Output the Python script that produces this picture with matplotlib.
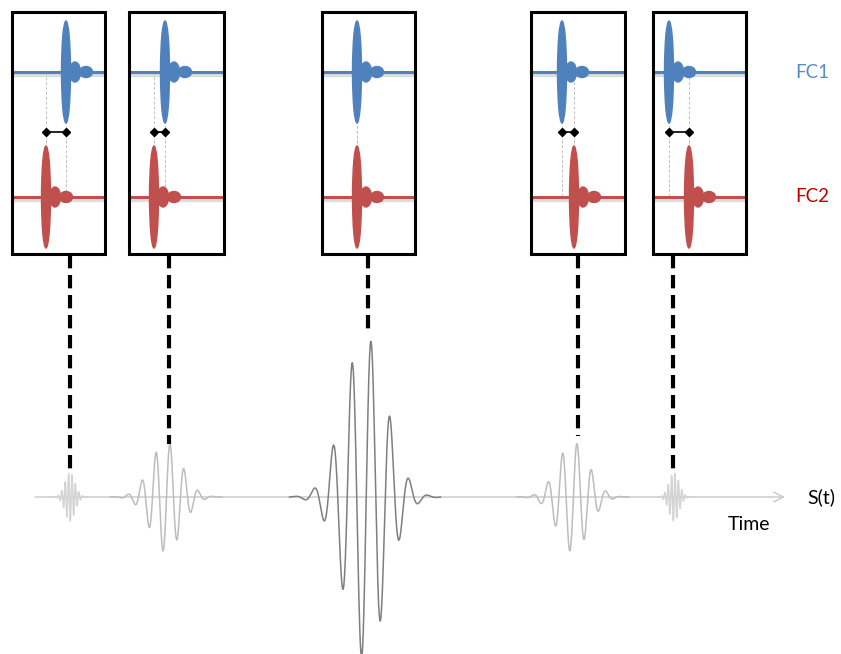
import numpy as np
import matplotlib.pyplot as plt
from matplotlib.patches import Rectangle, Ellipse

# five snapshots of the two frequency combs (pixel layout of the sketch)
box_left = [12, 129, 322, 531, 653]
box_right = [105, 224, 415, 625, 746]
fc1_x = [66, 165, 357, 562, 669]
fc2_x = [46, 154, 357, 574, 689]
link_x = [70, 169, 368, 578, 673]
link_end = [470, 444, 330, 436, 470]

# wave packets of the interferogram S(t)
packet_center = [70, 166, 365, 573, 674]
packet_peak_x = [72, 170, 371, 577, 675]
packet_period = [3.4, 14, 19, 14.5, 3.4]
packet_amp = [24, 55, 162, 55, 24]
packet_sigma = [5, 15.5, 21, 15.5, 5]
packet_color = ["#d4d4d4", "#bdbdbd", "#7f7f7f", "#bdbdbd", "#d4d4d4"]

BLUE = "#4f81bd"
RED = "#c0504d"
box_top, box_bottom = 12, 254
fc1_y, fc2_y, delay_y = 72, 197, 132
sig_y = 497


def draw_pulse(ax, x0, y0, color):
    ax.add_patch(Ellipse((x0 + 20, y0), 13, 11, color=color, zorder=4))
    ax.add_patch(Ellipse((x0 + 9, y0), 11, 20, color=color, zorder=4))
    ax.add_patch(Ellipse((x0, y0), 9, 102, color=color, zorder=4))


fig = plt.figure(figsize=(8.41, 6.54), dpi=100)
ax = fig.add_axes([0, 0, 1, 1])
ax.set_xlim(0, 841)
ax.set_ylim(654, 0)
ax.axis("off")

for i in range(5):
    l, r = box_left[i], box_right[i]
    # comb baselines with a soft shadow
    for y, c in [(fc1_y, BLUE), (fc2_y, RED)]:
        ax.plot([l, r], [y + 2.5, y + 2.5], color="#dcdcdc", lw=2.4, zorder=2,
                solid_capstyle="butt")
        ax.plot([l, r], [y, y], color=c, lw=2.2, zorder=3, solid_capstyle="butt")
    # guide lines
    for x in (fc1_x[i], fc2_x[i]):
        ax.plot([x, x], [fc1_y, fc2_y], color="#c0c0c0", lw=0.7, ls=(0, (3, 2)),
                zorder=2.5)
    draw_pulse(ax, fc1_x[i], fc1_y, BLUE)
    draw_pulse(ax, fc2_x[i], fc2_y, RED)
    if fc1_x[i] != fc2_x[i]:
        ax.plot([fc1_x[i], fc2_x[i]], [delay_y, delay_y], color="black", lw=1.2,
                marker="D", ms=4.5, zorder=5)
    ax.add_patch(Rectangle((l, box_top), r - l, box_bottom - box_top, fill=False,
                           ec="black", lw=2.2, zorder=6))
    # connector to the signal
    ax.plot([link_x[i], link_x[i]], [box_bottom + 1, link_end[i]], color="black",
            lw=3, ls=(0, (3.2, 1.6)), zorder=6)

# time axis
ax.annotate("", xy=(785, sig_y), xytext=(35, sig_y),
            arrowprops=dict(arrowstyle="->,head_length=0.7,head_width=0.35",
                            color="#c8c8c8", lw=1.0, shrinkA=0, shrinkB=0))

for c, px, per, a, s, col in zip(packet_center, packet_peak_x, packet_period,
                                  packet_amp, packet_sigma, packet_color):
    x = np.linspace(c - 3.6 * s, c + 3.6 * s, 800)
    y = sig_y - a * np.exp(-((x - c) ** 2) / (2 * s ** 2)) * np.cos(2 * np.pi * (x - px) / per)
    ax.plot(x, y, color=col, lw=1.1, zorder=3)

ax.text(812, fc1_y, "FC1", color="#5b8bc9", fontsize=13.5, family="Lato",
        ha="center", va="center")
ax.text(812, fc2_y, "FC2", color="#c00000", fontsize=13.5, family="Lato",
        ha="center", va="center")
ax.text(807, sig_y, "S(t)", color="black", fontsize=14, family="Lato",
        ha="left", va="center")
ax.text(749, 525, "Time", color="black", fontsize=14, family="Lato",
        ha="center", va="center")

fig.savefig("out.png", dpi=100)
